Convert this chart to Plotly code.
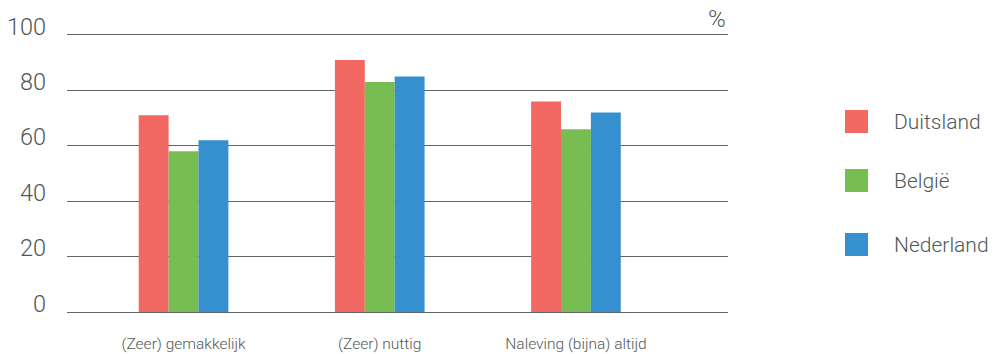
import plotly.graph_objects as go

# Survey results per statement, percentage per country
categories = ["(Zeer) gemakkelijk", "(Zeer) nuttig", "Naleving (bijna) altijd"]
countries = ["Duitsland", "België", "Nederland"]
values = {
    "Duitsland": [71, 91, 76],
    "België": [58, 83, 66],
    "Nederland": [62, 85, 72],
}
colors = {"Duitsland": "#F26863", "België": "#78BD52", "Nederland": "#3690CF"}
y_ticks = [0, 20, 40, 60, 80, 100]

TEXT = "#4E5958"
GRID = "#5E6767"
FONT = "Roboto"

W, H = 993, 354
ML, MR, MT, MB = 67, 265, 35, 42
PW, PH = W - ML - MR, H - MT - MB


def px_x(x):
    return (x - ML) / PW


def px_y(y):
    return (H - MB - y) / PH


fig = go.Figure()
for c in countries:
    fig.add_trace(go.Bar(
        x=categories, y=values[c], name=c,
        marker=dict(color=colors[c], line=dict(width=0)),
        showlegend=False,
    ))

# Y tick labels sit slightly above their gridlines
for v in y_ticks:
    fig.add_annotation(text=str(v), xref="paper", yref="y", x=0, y=v,
                       xanchor="right", yanchor="middle", xshift=-19, yshift=8.5,
                       showarrow=False,
                       font=dict(family=FONT, size=23.5, color=TEXT, weight=300))

# Legend: large colour squares with names
legend_rows = [121.5, 180.5, 244.5]
for c, yc in zip(countries, legend_rows):
    fig.add_shape(type="rect", xref="paper", yref="paper",
                  x0=px_x(845), x1=px_x(868), y0=px_y(yc + 11.5), y1=px_y(yc - 11.5),
                  fillcolor=colors[c], line=dict(width=0))
    fig.add_annotation(text=c, xref="paper", yref="paper",
                       x=px_x(892), y=px_y(yc), xanchor="left", yanchor="middle",
                       showarrow=False, font=dict(family=FONT, size=21, color=TEXT, weight=300))

# Unit label at the top right of the plot
fig.add_annotation(text="%", xref="paper", yref="paper", x=1, y=1,
                   xanchor="right", yanchor="bottom", yshift=0, showarrow=False,
                   font=dict(family=FONT, size=24, color=TEXT, weight=300))

fig.update_layout(
    width=W, height=H,
    margin=dict(l=ML, r=MR, t=MT, b=MB, autoexpand=False),
    paper_bgcolor="white", plot_bgcolor="white",
    barmode="group", bargap=0.543, bargroupgap=0,
    xaxis=dict(
        range=[-0.594, 2.775], showgrid=False, zeroline=False,
        showline=True, mirror=True, linecolor=GRID, linewidth=1, ticks="",
        tickfont=dict(family=FONT, size=15.5, color=TEXT, weight=300),
        ticklabelstandoff=17, automargin=False,
    ),
    yaxis=dict(
        range=[0, 100], tickvals=y_ticks, showgrid=True,
        gridcolor=GRID, gridwidth=1, zeroline=False,
        showline=False, ticks="", showticklabels=False, automargin=False,
    ),
)

fig.write_html("out.html")
